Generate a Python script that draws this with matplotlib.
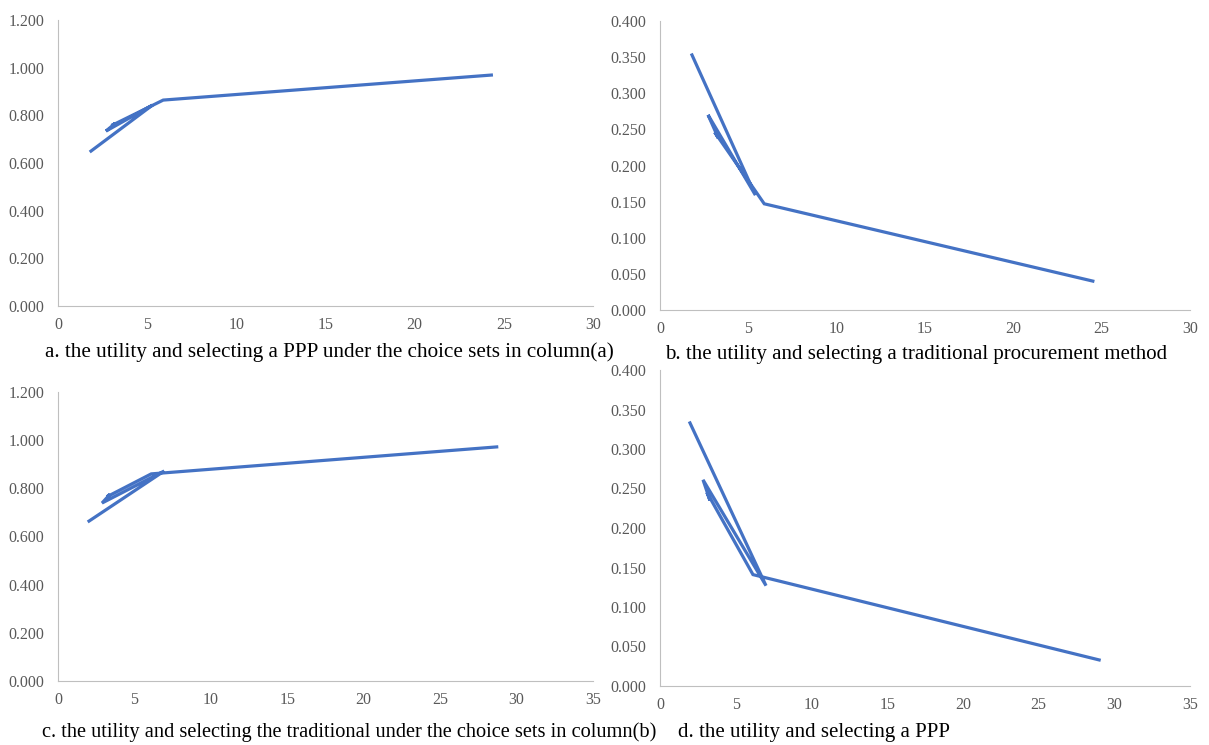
import matplotlib
matplotlib.use("Agg")
import matplotlib.pyplot as plt
import numpy as np

plt.rcParams['font.family'] = ['Liberation Serif', 'DejaVu Serif']

# Panel a
a_x = [1.85, 5.3, 2.69, 3.2, 3.0, 5.9, 24.3]
a_y = [0.650, 0.843, 0.734, 0.766, 0.757, 0.864, 0.969]
# Panel b
b_x = [1.81, 5.4, 2.72, 3.3, 3.1, 5.9, 24.5]
b_y = [0.353, 0.159, 0.270, 0.238, 0.246, 0.147, 0.040]
# Panel c
c_x = [2.03, 6.95, 2.88, 3.4, 3.2, 6.1, 28.7]
c_y = [0.664, 0.872, 0.739, 0.775, 0.765, 0.860, 0.972]
# Panel d
d_x = [1.98, 7.0, 2.84, 3.3, 3.1, 6.14, 29.0]
d_y = [0.333, 0.127, 0.261, 0.235, 0.245, 0.141, 0.033]

captions = [
    "a. the utility and selecting a PPP under the choice sets in column(a)",
    "b. the utility and selecting a traditional procurement method",
    "c. the utility and selecting the traditional under the choice sets in column(b)",
    "d. the utility and selecting a PPP",
]

W, H = 1209, 745
fig = plt.figure(figsize=(W / 100, H / 100), dpi=100)

def box(l, r, t, b):
    return [l / W, 1 - b / H, (r - l) / W, (b - t) / H]

panels = [
    (box(58, 593, 20, 306), a_x, a_y, 30, 1.2, 0.2, "{:.3f}"),
    (box(660, 1190, 21, 310), b_x, b_y, 30, 0.4, 0.05, "{:.3f}"),
    (box(58, 593, 392, 681), c_x, c_y, 35, 1.2, 0.2, "{:.3f}"),
    (box(660, 1190, 370, 686), d_x, d_y, 35, 0.4, 0.05, "{:.3f}"),
]
cap_pos = [(45, 352, 15.2), (665, 355, 15.0), (42, 732, 14.7), (678, 732, 15.0)]

for (rect, xs, ys, xmax, ymax, ystep, fmt), cap, (cx, cy, fs) in zip(panels, captions, cap_pos):
    ax = fig.add_axes(rect)
    ax.plot(xs, ys, color='#4472C4', lw=2.3, solid_joinstyle='miter')
    ax.set_xlim(0, xmax)
    ax.set_ylim(0, ymax)
    ax.set_xticks(np.arange(0, xmax + 0.1, 5))
    yt = np.round(np.arange(0, ymax + ystep / 2, ystep), 3)
    ax.set_yticks(yt)
    ax.set_yticklabels([fmt.format(v) for v in yt])
    for s in ['top', 'right']:
        ax.spines[s].set_visible(False)
    ax.spines['left'].set_color('#bfbfbf')
    ax.spines['bottom'].set_color('#bfbfbf')
    ax.tick_params(length=0, labelsize=11.5, labelcolor='#595959')
    ax.tick_params(axis='y', pad=10)
    ax.tick_params(axis='x', pad=8)
    fig.text(cx / W, 1 - cy / H, cap, fontsize=fs, color='black', ha='left', va='center')

fig.savefig("out.png", dpi=100)
